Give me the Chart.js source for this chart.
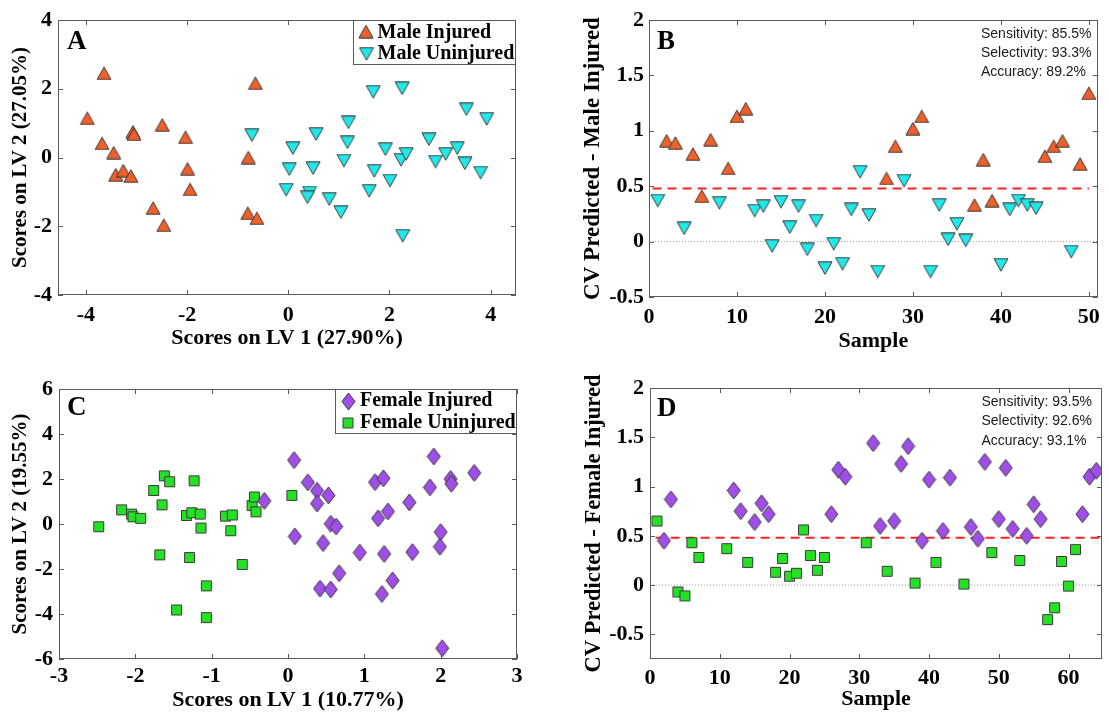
<!DOCTYPE html>
<html>
<head>
<meta charset="utf-8">
<title>PLS-DA scores and CV predictions</title>
<script src="https://cdn.jsdelivr.net/npm/chart.js@4.4.1/dist/chart.umd.min.js"></script>
<style>
  html, body { margin: 0; padding: 0; background: #fff; }
  #page { position: relative; width: 1109px; height: 713px; overflow: hidden; }
  #page canvas { position: absolute; }
</style>
</head>
<body>
<div id="page">
  <canvas id="panelA" width="545" height="355" style="left:0;top:0"></canvas>
  <canvas id="panelB" width="549" height="355" style="left:560px;top:0"></canvas>
  <canvas id="panelC" width="545" height="358" style="left:0;top:355px"></canvas>
  <canvas id="panelD" width="549" height="358" style="left:560px;top:355px"></canvas>
</div>
<script>
(function () {
  'use strict';

  // --- Panel A: scores, male samples -------------------------------------
  var maleInjuredLV1 = [-3.97, -3.64, -3.68, -3.45, -3.41, -3.26, -3.11, -3.07, -3.05, -2.67,
    -2.49, -2.46, -2.03, -1.99, -1.94, -0.65, -0.79, -0.80, -0.62];
  var maleInjuredLV2 = [1.14, 2.45, 0.41, 0.14, -0.50, -0.38, -0.54, 0.75, 0.68, -1.47,
    0.95, -1.97, 0.59, -0.33, -0.93, 2.16, 0.00, -1.62, -1.77];
  var maleUninjuredLV1 = [-0.72, 0.09, 0.02, -0.04, 0.42, 0.38, 0.55, 0.49, 0.81, 1.04,
    1.10, 1.17, 1.19, 1.60, 1.70, 1.68, 1.92, 2.01, 2.23, 2.33,
    2.25, 2.26, 2.78, 2.91, 3.11, 3.34, 3.49, 3.52, 3.80, 3.92];
  var maleUninjuredLV2 = [0.65, 0.27, -0.34, -0.94, -1.02, -1.16, 0.68, -0.31, -1.21, -1.59,
    -0.09, 0.44, 1.02, -0.97, -0.39, 1.91, 0.24, -0.67, -0.07, 0.10,
    2.01, -2.28, 0.53, -0.12, 0.10, 0.27, -0.17, 1.40, -0.44, 1.12];
  var ticksAx = [-4, -2, 0, 2, 4];
  var ticksAy = [-4, -2, 0, 2, 4];

  // --- Panel B: CV predictions, male -------------------------------------
  var maleInjuredSample = [2, 3, 5, 6, 7, 9, 10, 11, 27, 28, 30, 31, 37, 38, 39, 45, 46, 47, 49, 50];
  var maleInjuredPred = [0.91, 0.89, 0.79, 0.41, 0.92, 0.66, 1.13, 1.20, 0.57, 0.86,
    1.02, 1.13, 0.33, 0.74, 0.37, 0.77, 0.86, 0.91, 0.70, 1.34];
  var maleUninjuredSample = [1, 4, 8, 12, 13, 14, 15, 16, 17, 18, 19, 20, 21, 22, 23,
    24, 25, 26, 29, 32, 33, 34, 35, 36, 40, 41, 42, 43, 44, 48];
  var maleUninjuredPred = [0.37, 0.12, 0.35, 0.28, 0.32, -0.04, 0.36, 0.13, 0.32, -0.07,
    0.19, -0.24, -0.02, -0.20, 0.29, 0.63, 0.24, -0.27, 0.55, -0.27,
    0.33, 0.02, 0.16, 0.01, -0.21, 0.29, 0.37, 0.33, 0.30, -0.09];
  var maleCutoff = 0.48;
  var ticksBx = [0, 10, 20, 30, 40, 50];
  var ticksBy = [-0.5, 0, 0.5, 1, 1.5, 2];
  var maleStats = ['Sensitivity: 85.5%', 'Selectivity: 93.3%', 'Accuracy: 89.2%'];

  // --- Panel C: scores, female samples -----------------------------------
  var femaleInjuredLV1 = [-0.31, 0.08, 0.09, 0.26, 0.38, 0.38, 0.53, 0.46, 0.56, 0.63,
    0.42, 0.56, 0.67, 0.94, 1.14, 1.25, 1.18, 1.31, 1.26, 1.37,
    1.23, 1.59, 1.63, 1.86, 1.91, 2.00, 1.99, 2.13, 2.14, 2.44, 2.02];
  var femaleInjuredLV2 = [1.03, 2.84, -0.55, 1.85, 1.48, 0.91, 1.27, -0.85, 0.01, -0.11,
    -2.87, -2.91, -2.19, -1.27, 1.86, 2.03, 0.25, 0.56, -1.33, -2.51,
    -3.11, 0.96, -1.25, 1.63, 3.00, -0.36, -1.01, 2.00, 1.79, 2.27, -5.52];
  var femaleUninjuredLV1 = [-2.48, -2.18, -2.05, -2.03, -1.93, -1.76, -1.65, -1.62, -1.55, -1.68,
    -1.33, -1.26, -1.15, -1.23, -1.14, -1.29, -1.07, -1.46, -1.07, -0.82,
    -0.73, -0.75, -0.60, -0.47, -0.44, -0.42, 0.05];
  var femaleUninjuredLV2 = [-0.12, 0.63, 0.44, 0.32, 0.25, 1.49, 0.85, 2.14, 1.88, -1.37,
    0.38, 0.50, 0.44, 1.92, -0.18, -1.49, -2.75, -3.82, -4.16, 0.35,
    0.40, -0.30, -1.80, 0.82, 1.20, 0.54, 1.27];
  var ticksCx = [-3, -2, -1, 0, 1, 2, 3];
  var ticksCy = [-6, -4, -2, 0, 2, 4, 6];

  // --- Panel D: CV predictions, female -----------------------------------
  var femaleInjuredSample = [2, 3, 12, 13, 15, 16, 17, 26, 27, 28, 32, 33, 35, 36, 37, 39,
    40, 42, 43, 46, 47, 48, 50, 51, 52, 54, 55, 56, 62, 63, 64];
  var femaleInjuredPred = [0.45, 0.87, 0.96, 0.75, 0.64, 0.83, 0.72, 0.72, 1.17, 1.10,
    1.44, 0.60, 0.65, 1.23, 1.41, 0.45, 1.07, 0.55, 1.09, 0.59,
    0.47, 1.25, 0.67, 1.19, 0.57, 0.50, 0.82, 0.67, 0.72, 1.10, 1.16];
  var femaleUninjuredSample = [1, 4, 5, 6, 7, 11, 14, 18, 19, 20, 21, 22, 23, 24, 25,
    31, 34, 38, 41, 45, 49, 53, 57, 58, 59, 60, 61];
  var femaleUninjuredPred = [0.65, -0.07, -0.11, 0.43, 0.28, 0.37, 0.23, 0.13, 0.27, 0.09,
    0.12, 0.56, 0.30, 0.15, 0.28, 0.43, 0.14, 0.02, 0.23, 0.01,
    0.33, 0.25, -0.35, -0.23, 0.24, -0.01, 0.36];
  var femaleCutoff = 0.48;
  var ticksDx = [0, 10, 20, 30, 40, 50, 60];
  var ticksDy = [-0.5, 0, 0.5, 1, 1.5, 2];
  var femaleStats = ['Sensitivity: 93.5%', 'Selectivity: 92.6%', 'Accuracy: 93.1%'];

  var SERIF = '"Liberation Serif", "Times New Roman", serif';
  var SANS = '"Liberation Sans", Arial, sans-serif';
  var EDGE = '#3a3a3a';
  var FRAME = '#5a5a5a';

  Chart.defaults.font.family = SERIF;
  Chart.defaults.color = '#000';

  /**
   * Draws one MATLAB-like marker into a small canvas, used as pointStyle.
   * The shape's bounding box is centred on the canvas.
   */
  function makeMarker(kind, fill) {
    var c = document.createElement('canvas');
    var ctx;
    if (kind === 'square') { c.width = 13; c.height = 13; }
    else if (kind === 'diamond') { c.width = 15; c.height = 19; }
    else { c.width = 16; c.height = 14; }
    ctx = c.getContext('2d');
    ctx.beginPath();
    if (kind === 'up') {
      ctx.moveTo(8, 0.8); ctx.lineTo(15, 13.2); ctx.lineTo(1, 13.2);
    } else if (kind === 'down') {
      ctx.moveTo(1, 0.8); ctx.lineTo(15, 0.8); ctx.lineTo(8, 13.2);
    } else if (kind === 'diamond') {
      ctx.moveTo(7.5, 1); ctx.lineTo(14, 9.5); ctx.lineTo(7.5, 18); ctx.lineTo(1, 9.5);
    } else {
      ctx.rect(1.5, 1.5, 10, 10);
    }
    ctx.closePath();
    ctx.fillStyle = fill;
    ctx.fill();
    ctx.lineWidth = 1;
    ctx.strokeStyle = EDGE;
    ctx.stroke();
    return c;
  }

  var markInjuredM = makeMarker('up', '#f0602a');
  var markUninjuredM = makeMarker('down', '#22e8ea');
  var markInjuredF = makeMarker('diamond', '#a04ee8');
  var markUninjuredF = makeMarker('square', '#26e026');

  function pairs(xs, ys) {
    return xs.map(function (x, i) { return { x: x, y: ys[i] }; });
  }

  function points(label, xs, ys, marker) {
    return {
      label: label,
      data: pairs(xs, ys),
      pointStyle: marker,
      pointRadius: 6,
      order: 1
    };
  }

  function hline(y, x0, x1, color, width, dash, order) {
    return {
      type: 'line',
      data: [{ x: x0, y: y }, { x: x1, y: y }],
      borderColor: color,
      borderWidth: width,
      borderDash: dash,
      pointRadius: 0,
      fill: false,
      order: order
    };
  }

  // Box, inward ticks on four sides, in-axes legend, panel letter, stats text.
  var panelDeco = {
    id: 'panelDeco',
    afterDatasetsDraw: function (chart, args, o) {
      var ctx = chart.ctx;
      var a = chart.chartArea;
      var xs = chart.scales.x;
      var ys = chart.scales.y;
      ctx.save();

      ctx.strokeStyle = FRAME;
      ctx.lineWidth = 1;
      ctx.strokeRect(Math.round(a.left) + 0.5, Math.round(a.top) + 0.5,
        Math.round(a.width) - 1, Math.round(a.height) - 1);
      ctx.beginPath();
      xs.ticks.forEach(function (t) {
        var px = Math.round(xs.getPixelForValue(t.value)) + 0.5;
        ctx.moveTo(px, a.bottom); ctx.lineTo(px, a.bottom - 5);
        ctx.moveTo(px, a.top); ctx.lineTo(px, a.top + 5);
      });
      ys.ticks.forEach(function (t) {
        var py = Math.round(ys.getPixelForValue(t.value)) + 0.5;
        ctx.moveTo(a.left, py); ctx.lineTo(a.left + 5, py);
        ctx.moveTo(a.right, py); ctx.lineTo(a.right - 5, py);
      });
      ctx.stroke();

      if (o.legend) {
        var L = o.legend;
        ctx.fillStyle = '#fff';
        ctx.fillRect(L.box[0], L.box[1], L.box[2], L.box[3]);
        ctx.strokeStyle = FRAME;
        ctx.strokeRect(L.box[0], L.box[1], L.box[2], L.box[3]);
        ctx.font = 'bold 20px ' + SERIF;
        ctx.fillStyle = '#000';
        ctx.textAlign = 'left';
        ctx.textBaseline = 'middle';
        L.items.forEach(function (it) {
          ctx.drawImage(it.marker, it.mx - it.marker.width / 2, it.my - it.marker.height / 2);
          ctx.fillText(it.text, L.textX, it.ty);
        });
      }

      ctx.font = 'bold 27px ' + SERIF;
      ctx.fillStyle = '#000';
      ctx.textAlign = 'left';
      ctx.textBaseline = 'middle';
      ctx.fillText(o.letter[0], o.letter[1], o.letter[2]);

      if (o.stats) {
        ctx.font = '14px ' + SANS;
        ctx.fillStyle = '#1a1a1a';
        o.stats.lines.forEach(function (s, i) {
          ctx.fillText(s, o.stats.x, o.stats.y[i]);
        });
      }
      ctx.restore();
    }
  };

  function axisOptions(pos, a) {
    return {
      type: 'linear',
      position: pos,
      min: a.min,
      max: a.max,
      grid: { display: false, drawTicks: false },
      border: { display: false },
      ticks: {
        autoSkip: false,
        maxRotation: 0,
        padding: a.tickPad,
        color: '#000',
        font: { size: 22, weight: 'bold', lineHeight: 1 },
        callback: function (v) { return String(v); }
      },
      title: {
        display: true,
        text: a.title,
        color: '#000',
        font: { size: a.titleSize, weight: 'bold', lineHeight: 1 },
        padding: pos === 'bottom' ? { top: 0, bottom: a.titlePad } : { top: a.titlePad, bottom: 0 }
      },
      afterBuildTicks: function (s) {
        s.ticks = a.ticks.map(function (v) { return { value: v }; });
      },
      afterFit: function (s) {
        if (pos === 'bottom') s.height = a.size; else s.width = a.size;
      }
    };
  }

  function buildPanel(id, geo, datasets, xAxis, yAxis, deco) {
    return new Chart(document.getElementById(id), {
      type: 'scatter',
      data: { datasets: datasets },
      options: {
        responsive: false,
        animation: false,
        events: [],
        devicePixelRatio: 1,
        layout: { padding: { left: 0, top: geo.top, right: geo.right, bottom: 0 } },
        scales: { x: axisOptions('bottom', xAxis), y: axisOptions('left', yAxis) },
        plugins: {
          legend: { display: false },
          tooltip: { enabled: false },
          panelDeco: deco
        }
      },
      plugins: [panelDeco]
    });
  }

  buildPanel('panelA', { top: 20, right: 29 }, [
    points('Male Injured', maleInjuredLV1, maleInjuredLV2, markInjuredM),
    points('Male Uninjured', maleUninjuredLV1, maleUninjuredLV2, markUninjuredM)
  ], {
    min: -4.55, max: 4.5, ticks: ticksAx, tickPad: 9, size: 60,
    title: 'Scores on LV 1 (27.90%)', titleSize: 22, titlePad: 5.5
  }, {
    min: -4, max: 4, ticks: ticksAy, tickPad: 6, size: 58,
    title: 'Scores on LV 2 (27.05%)', titleSize: 21, titlePad: 10
  }, {
    letter: ['A', 67, 42],
    legend: {
      box: [353.5, 20.5, 162, 44], textX: 377.5,
      items: [
        { marker: markInjuredM, text: 'Male Injured', mx: 366, my: 31.5, ty: 32.5 },
        { marker: markUninjuredM, text: 'Male Uninjured', mx: 366.5, my: 54, ty: 53.5 }
      ]
    }
  });

  buildPanel('panelB', { top: 20, right: 4 }, [
    points('Male Injured', maleInjuredSample, maleInjuredPred, markInjuredM),
    points('Male Uninjured', maleUninjuredSample, maleUninjuredPred, markUninjuredM),
    hline(maleCutoff, 0.4, 50, '#ff2020', 2, [9, 6], 2),
    hline(0, 0, 51, '#9a9a9a', 1, [1, 2], 3)
  ], {
    min: 0, max: 51, ticks: ticksBx, tickPad: 9, size: 58,
    title: 'Sample', titleSize: 22, titlePad: 3
  }, {
    min: -0.5, max: 2, ticks: ticksBy, tickPad: 5, size: 89,
    title: 'CV Predicted - Male Injured', titleSize: 23, titlePad: 22
  }, {
    letter: ['B', 97, 42],
    stats: { lines: maleStats, x: 421, y: [34.5, 53.5, 72.5] }
  });

  buildPanel('panelC', { top: 34, right: 28 }, [
    points('Female Injured', femaleInjuredLV1, femaleInjuredLV2, markInjuredF),
    points('Female Uninjured', femaleUninjuredLV1, femaleUninjuredLV2, markUninjuredF)
  ], {
    min: -3, max: 3, ticks: ticksCx, tickPad: 6.5, size: 54,
    title: 'Scores on LV 1 (10.77%)', titleSize: 22, titlePad: 1.5
  }, {
    min: -6, max: 6, ticks: ticksCy, tickPad: 6, size: 59,
    title: 'Scores on LV 2 (19.55%)', titleSize: 21, titlePad: 10
  }, {
    letter: ['C', 67, 53],
    legend: {
      box: [335.5, 34.5, 181, 44], textX: 360,
      items: [
        { marker: markInjuredF, text: 'Female Injured', mx: 348.5, my: 46.5, ty: 45.5 },
        { marker: markUninjuredF, text: 'Female Uninjured', mx: 348, my: 68, ty: 67.5 }
      ]
    }
  });

  buildPanel('panelD', { top: 33, right: 3 }, [
    points('Female Injured', femaleInjuredSample, femaleInjuredPred, markInjuredF),
    points('Female Uninjured', femaleUninjuredSample, femaleUninjuredPred, markUninjuredF),
    hline(femaleCutoff, 0.8, 64.5, '#ff2020', 2, [9, 6], 2),
    hline(0, 0, 65, '#9a9a9a', 1, [1, 2], 3)
  ], {
    min: 0, max: 64.8, ticks: ticksDx, tickPad: 8, size: 54,
    title: 'Sample', titleSize: 22, titlePad: 3
  }, {
    min: -0.75, max: 2, ticks: ticksDy, tickPad: 6, size: 90,
    title: 'CV Predicted - Female Injured', titleSize: 22.5, titlePad: 23
  }, {
    letter: ['D', 97, 54],
    stats: { lines: femaleStats, x: 421.5, y: [47.5, 66.5, 86] }
  });
}());
</script>
</body>
</html>
